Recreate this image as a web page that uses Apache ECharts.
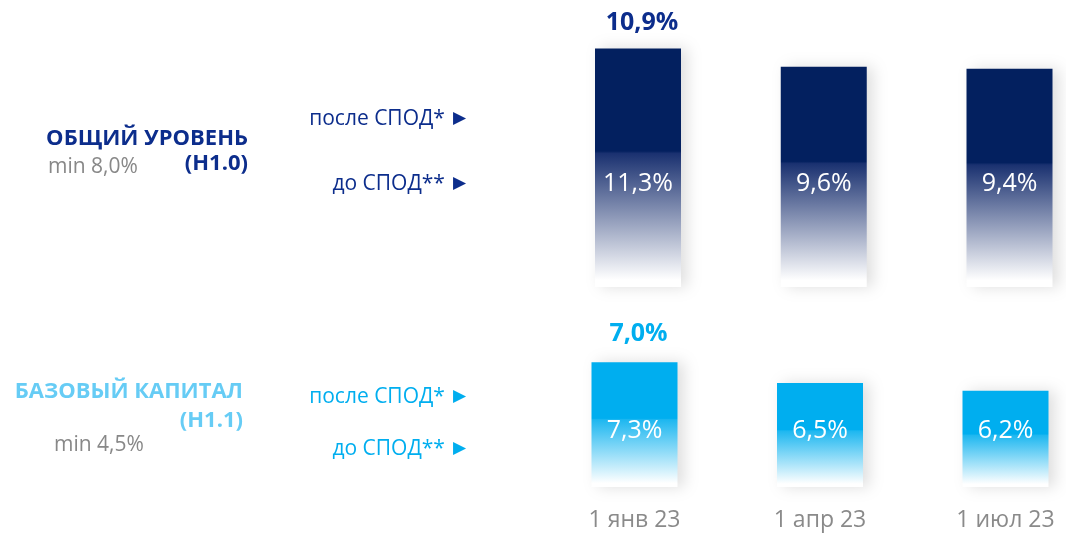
<!DOCTYPE html>
<html>
<head>
<meta charset="utf-8">
<script src="https://cdn.jsdelivr.net/npm/echarts@6/dist/echarts.min.js"></script>
<style>
  html, body { margin: 0; padding: 0; background: #fff; }
  #main { width: 1066px; height: 534px; }
</style>
</head>
<body>
<div id="main"></div>
<script>
// даты
var categories = ['1 янв 23', '1 апр 23', '1 июл 23'];
// Н1.0 до СПОД / после СПОД
var totalBefore = [11.3, 9.6, 9.4];
var totalAfter = [10.9, null, null];
// Н1.1 до СПОД / после СПОД
var baseBefore = [7.3, 6.5, 6.2];
var baseAfter = [7.0, null, null];

var fontName = '"Open Sans", "Noto Sans", sans-serif';
var navy = '#03205f';
var sky = '#00aeef';

function fmt(v) {
    return v.toFixed(1).replace('.', ',') + '%';
}

// столбик плавно уходит в белый
function fade(c, mid, c2) {
    return new echarts.graphic.LinearGradient(0, 0, 0, 1, [
        {offset: 0, color: c},
        {offset: mid, color: c},
        {offset: mid + 0.01, color: c2},
        {offset: 0.97, color: '#ffffff'},
        {offset: 1, color: '#ffffff'}
    ]);
}

function pairs(arr) {
    return arr.map(function (v, i) { return [i, v]; });
}

// бар рисуется от минимума оси, а не от нуля
function makeRender(yMin, mid, c1, c2, insideDist, afterArr, afterColor, afterDist) {
    return function (params, api) {
        var i = params.dataIndex;
        var v = api.value(1);
        var top = api.coord([api.value(0), v]);
        var base = api.coord([api.value(0), yMin]);
        var w = 86;
        var children = [{
            type: 'rect',
            shape: {x: top[0] - w / 2, y: top[1], width: w, height: base[1] - top[1]},
            style: {
                fill: fade(c1, mid, c2),
                shadowColor: 'rgba(0,0,0,0.13)',
                shadowBlur: 14,
                shadowOffsetX: 6
            },
            textContent: {
                style: {text: fmt(v), fill: '#ffffff', font: '25px ' + fontName}
            },
            textConfig: {position: 'insideBottom', distance: insideDist}
        }];
        var a = afterArr[i];
        if (a != null) {
            children.push({
                type: 'text',
                x: top[0] + 4,
                y: top[1] - afterDist,
                style: {
                    text: fmt(a),
                    fill: afterColor,
                    font: 'bold 25px ' + fontName,
                    align: 'center',
                    verticalAlign: 'bottom'
                }
            });
        }
        return {type: 'group', children: children};
    };
}

var dom = document.getElementById('main');
var myChart = echarts.init(dom);

var sideText = function (txt, color, size) {
    return {
        rich: {
            t: {fill: color, font: size + 'px ' + fontName},
            a: {fill: color, font: '17px "DejaVu Sans", sans-serif', padding: [0, 0, 2, 8]}
        },
        text: '{t|' + txt + '}{a|▶}'
    };
};

var option = {
    animation: false,
    backgroundColor: '#ffffff',
    grid: [
        {left: 638, width: 371.5, top: 41, height: 246},
        {left: 634.5, width: 371, top: 344, height: 143}
    ],
    xAxis: [
        {
            type: 'category',
            gridIndex: 0,
            boundaryGap: false,
            data: categories,
            show: false
        },
        {
            type: 'category',
            gridIndex: 1,
            boundaryGap: false,
            data: categories,
            axisLine: {show: false},
            axisTick: {show: false},
            axisLabel: {
                color: '#8a8a8a',
                fontSize: 23,
                fontFamily: fontName,
                margin: 22
            }
        }
    ],
    yAxis: [
        {type: 'value', gridIndex: 0, min: -11, max: 12, show: false},
        {type: 'value', gridIndex: 1, min: 2.5, max: 8, show: false}
    ],
    graphic: [
        // верхний блок
        {type: 'text', right: 1066 - 248, top: 128, style: {text: 'ОБЩИЙ УРОВЕНЬ', fill: '#0c2d8c', font: 'bold 22px ' + fontName}},
        {type: 'text', right: 1066 - 248, top: 153, style: {text: '(Н1.0)', fill: '#0c2d8c', font: 'bold 22px ' + fontName}},
        {type: 'text', left: 48, top: 157, style: {text: 'min 8,0%', fill: '#888888', font: '21px ' + fontName}},
        {type: 'text', right: 1066 - 466, top: 109, style: sideText('после СПОД*', '#0c2d8c', 21)},
        {type: 'text', right: 1066 - 466, top: 174, style: sideText('до СПОД**', '#0c2d8c', 21)},
        // нижний блок
        {type: 'text', right: 1066 - 243, top: 381, style: {text: 'БАЗОВЫЙ КАПИТАЛ', fill: '#66ccf5', font: 'bold 22px ' + fontName}},
        {type: 'text', right: 1066 - 243, top: 410, style: {text: '(Н1.1)', fill: '#66ccf5', font: 'bold 22px ' + fontName}},
        {type: 'text', left: 54, top: 435, style: {text: 'min 4,5%', fill: '#888888', font: '21px ' + fontName}},
        {type: 'text', right: 1066 - 466, top: 387, style: sideText('после СПОД*', sky, 21)},
        {type: 'text', right: 1066 - 466, top: 439, style: sideText('до СПОД**', sky, 21)}
    ],
    series: [
        {
            name: 'Н1.0',
            type: 'custom',
            xAxisIndex: 0,
            yAxisIndex: 0,
            encode: {x: 0, y: 1},
            data: pairs(totalBefore),
            renderItem: makeRender(-11, 0.43, navy, '#1a3170', 91, totalAfter, '#0c2d8c', 13)
        },
        {
            name: 'Н1.1',
            type: 'custom',
            xAxisIndex: 1,
            yAxisIndex: 1,
            encode: {x: 0, y: 1},
            data: pairs(baseBefore),
            renderItem: makeRender(2.5, 0.45, sky, '#1db7f0', 44, baseAfter, sky, 16)
        }
    ]
};

if (option && typeof option === "object") {
    myChart.setOption(option, true);
}
</script>
</body>
</html>
